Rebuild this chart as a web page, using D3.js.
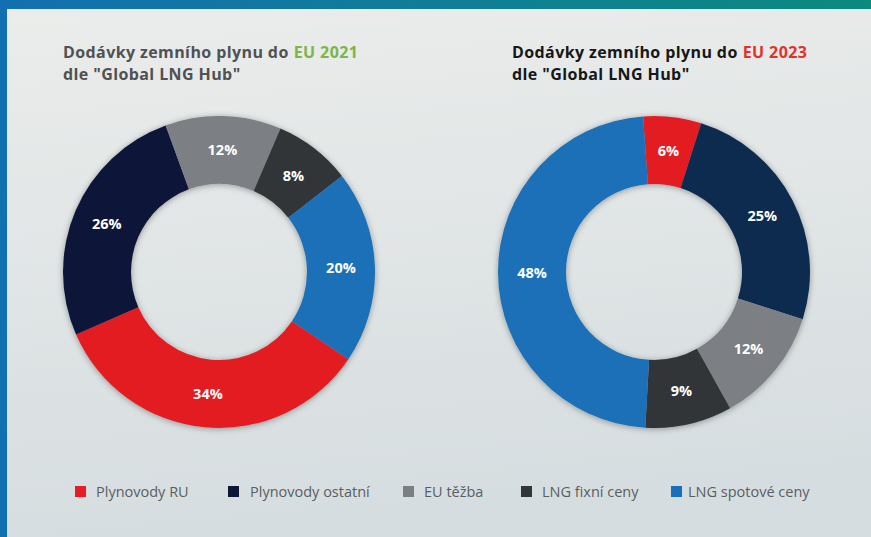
<!DOCTYPE html>
<html>
<head>
<meta charset="utf-8">
<script src="https://cdn.jsdelivr.net/npm/d3@7"></script>
<style>
  body { margin: 0; }
  svg { display: block; font-family: "Open Sans", sans-serif; }
</style>
</head>
<body>
<div id="chart"></div>
<script>
// data
const categories = ["Plynovody RU", "Plynovody ostatní", "EU těžba", "LNG fixní ceny", "LNG spotové ceny"];
const values2021 = [34, 26, 12, 8, 20];
const values2023 = [6, 25, 12, 9, 48];
const colors2021 = ["#e31e24", "#0b1838", "#7b7f83", "#333638", "#1a70b8"];
const colors2023 = ["#e31e24", "#0e2b50", "#7b7f83", "#333638", "#1a70b8"];
const legendColors = ["#e31e24", "#0b1838", "#7b7f83", "#333638", "#1a70b8"];

const width = 871, height = 537;

const svg = d3.select("#chart").append("svg")
  .attr("width", width)
  .attr("height", height);

const defs = svg.append("defs");
// background gradient
const bg = defs.append("linearGradient").attr("id", "bg")
  .attr("x1", 0).attr("y1", 0).attr("x2", 0.15).attr("y2", 1);
bg.append("stop").attr("offset", "0%").attr("stop-color", "#ebedeb");
bg.append("stop").attr("offset", "100%").attr("stop-color", "#d6dde0");
// top band gradient
const band = defs.append("linearGradient").attr("id", "band")
  .attr("x1", 0).attr("y1", 0).attr("x2", 1).attr("y2", 0);
band.append("stop").attr("offset", "0%").attr("stop-color", "#1370b0");
band.append("stop").attr("offset", "100%").attr("stop-color", "#0c8a7e");
// soft shadow for the rings
const shadow = defs.append("filter").attr("id", "shadow")
  .attr("x", "-20%").attr("y", "-20%").attr("width", "140%").attr("height", "140%");
shadow.append("feDropShadow")
  .attr("dx", 0).attr("dy", 1).attr("stdDeviation", 3)
  .attr("flood-color", "#000").attr("flood-opacity", 0.35);

svg.append("rect").attr("width", width).attr("height", height).attr("fill", "url(#bg)");
svg.append("rect").attr("width", width).attr("height", 9).attr("fill", "url(#band)");
svg.append("rect").attr("width", 7).attr("height", height).attr("fill", "#1370b0");

//function to draw one donut
const drawDonut = (cx, cy, values, colors, startDeg) => {
  const outer = 156, inner = 88;
  const start = startDeg * Math.PI / 180;
  const pie = d3.pie().sort(null).value(d => d)
    .startAngle(start).endAngle(start + 2 * Math.PI);
  const arc = d3.arc().innerRadius(inner).outerRadius(outer);
  const labelArc = d3.arc().innerRadius((inner + outer) / 2).outerRadius((inner + outer) / 2);
  const g = svg.append("g").attr("transform", `translate(${cx},${cy})`);
  const arcs = pie(values);
  g.append("g").attr("filter", "url(#shadow)")
    .selectAll("path")
    .data(arcs)
    .join("path")
    .attr("d", arc)
    .attr("fill", (d, i) => colors[i]);
  g.selectAll("text")
    .data(arcs)
    .join("text")
    .attr("transform", d => `translate(${labelArc.centroid(d)})`)
    .attr("text-anchor", "middle")
    .attr("dy", "0.36em")
    .attr("fill", "#fff")
    .attr("font-weight", "bold")
    .attr("font-size", 14.5)
    .text(d => d.data + "%");
};

drawDonut(219, 272, values2021, colors2021, 124);
drawDonut(654, 272, values2023, colors2023, -4);

//titles: main part and coloured year as separate texts
const addTitle = (x, color, year, yearColor) => {
  const first = svg.append("text").attr("x", x).attr("y", 58)
    .attr("font-weight", "bold").attr("font-size", 16).attr("letter-spacing", 0.4)
    .attr("fill", color)
    .text("Dodávky zemního plynu do");
  const w = first.node().getComputedTextLength();
  svg.append("text").attr("x", x + w + 5).attr("y", 58)
    .attr("font-weight", "bold").attr("font-size", 16).attr("letter-spacing", 0.4)
    .attr("fill", yearColor)
    .text("EU " + year);
  svg.append("text").attr("x", x).attr("y", 80)
    .attr("font-weight", "bold").attr("font-size", 16).attr("letter-spacing", 0.4)
    .attr("fill", color)
    .text('dle "Global LNG Hub"');
};
addTitle(63, "#4f5152", "2021", "#7ab648");
addTitle(512, "#161718", "2023", "#e2332b");

//legend
const legendX = [75, 228, 403, 521, 671];
const legendTextX = [96, 250, 424, 542, 688];
const legend = svg.append("g");
categories.forEach((c, i) => {
  legend.append("rect")
    .attr("x", legendX[i]).attr("y", 486)
    .attr("width", 11).attr("height", 11)
    .attr("fill", legendColors[i]);
  legend.append("text")
    .attr("x", legendTextX[i]).attr("y", 497)
    .attr("font-size", 14.5).attr("fill", "#595e62")
    .text(c);
});
</script>
</body>
</html>
